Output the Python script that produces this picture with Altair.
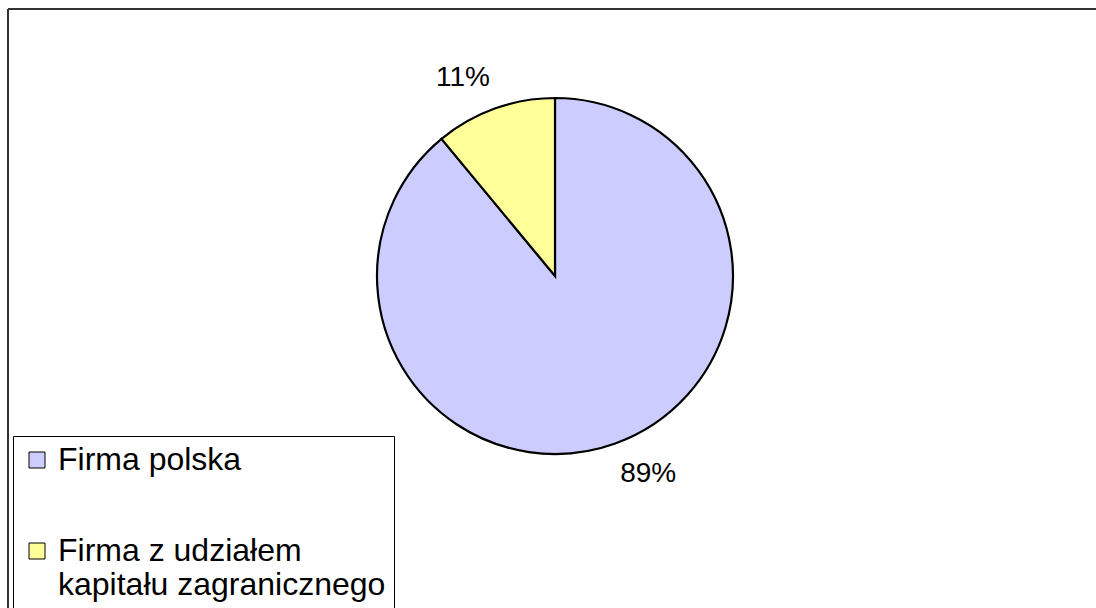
import altair as alt
import pandas as pd

categories = ["Firma polska", "Firma z udziałem kapitału zagranicznego"]
values = [89, 11]
labels = ["89%", "11%"]
colors = ["#CCCCFF", "#FFFF99"]
order = [1, 2]

df = pd.DataFrame({"cat": categories, "val": values, "lab": labels, "ord": order})

FONT = "Liberation Sans"

base = alt.Chart(df)

color = alt.Color(
    "cat:N",
    scale=alt.Scale(domain=categories, range=colors),
    legend=alt.Legend(
        title=None,
        orient="none",
        legendX=13,
        legendY=436,
        padding=8,
        strokeColor="black",
        fillColor="white",
        symbolType="square",
        symbolSize=256,
        symbolStrokeColor="black",
        symbolStrokeWidth=1,
        labelFont=FONT,
        labelFontSize=32,
        labelColor="black",
        labelLimit=500,
        labelOffset=5,
        labelBaseline="middle",
        rowPadding=59,
        labelExpr="datum.label == 'Firma polska' ? 'Firma polska' : ['Firma z udziałem', 'kapitału zagranicznego']",
    ),
)

pie = base.mark_arc(outerRadius=178, stroke="black", strokeWidth=2.2).encode(
    theta=alt.Theta("val:Q", stack=True),
    color=color,
    order=alt.Order("ord:Q"),
    x=alt.value(555),
    y=alt.value(276),
)

def lab_layer(which, align, dx):
    return base.mark_text(
        radius=210, font=FONT, fontSize=28, color="black", align=align, baseline="middle", dx=dx
    ).encode(
        theta=alt.Theta("val:Q", stack=True),
        order=alt.Order("ord:Q"),
        text=alt.condition(f"datum.ord == {which}", "lab:N", alt.value("")),
        x=alt.value(555),
        y=alt.value(276),
    )

lab_right = lab_layer(1, "left", -6)
lab_left = lab_layer(2, "right", 6)

frame_df = pd.DataFrame({"a": [0]})
left_rule = alt.Chart(frame_df).mark_rule(color="#333333", strokeWidth=2).encode(
    x=alt.value(8), y=alt.value(9), y2=alt.value(640)
)
top_rule = alt.Chart(frame_df).mark_rule(color="#333333", strokeWidth=2).encode(
    x=alt.value(8), x2=alt.value(1100), y=alt.value(9)
)

chart = alt.layer(left_rule, top_rule, pie, lab_right, lab_left).properties(
    width=1096, height=608, padding=0, autosize=alt.AutoSizeParams(type="none"),
    background="white",
).configure_view(stroke=None)

chart.save("out.html", embed_options={"renderer": "svg", "actions": False})
